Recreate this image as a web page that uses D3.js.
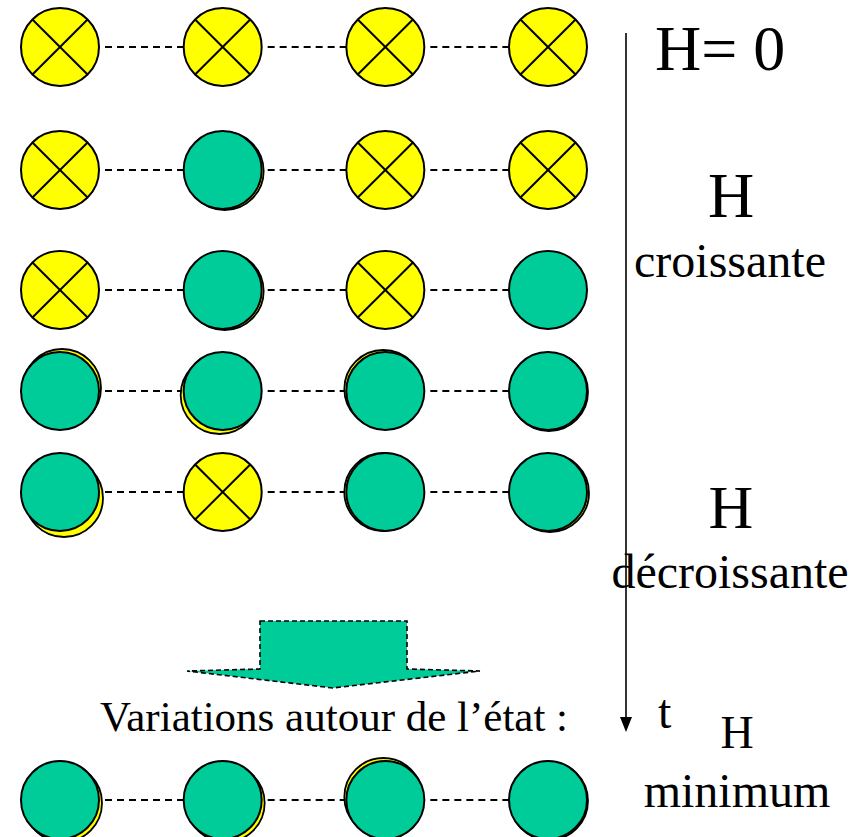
<!DOCTYPE html>
<html>
<head>
<meta charset="utf-8">
<script src="https://cdn.jsdelivr.net/npm/d3@7/dist/d3.min.js"></script>
<style>
html,body{margin:0;padding:0;background:#fff;}
svg{display:block;}
</style>
</head>
<body>
<svg id="chart" width="867" height="837"></svg>
<script>
// ---- data ----
const steps = ["s0", "s1", "s2", "s3", "s4", "final"];
const spins = ["a", "b", "c", "d"];
// X = yellow crossed state, G = green state
const stateRows = [
  ["X", "X", "X", "X"],
  ["X", "G", "X", "X"],
  ["X", "G", "X", "G"],
  ["G", "G", "G", "G"],
  ["G", "X", "G", "G"],
  ["G", "G", "G", "G"]
];
// residual yellow shadow behind green discs (direction hints)
const shadowRows = [
  [null, null, null, null],
  [null, [1, 0.5], null, null],
  [null, [1, 0.5], null, null],
  [[1, -1.5], [-1.5, 2], [-1, -1], [0.5, 0.5]],
  [[2, 3], null, [-1, 0], [1, 0.5]],
  [[1.5, 1.5], [1.5, 1.5], [-1, -1.5], [0.5, 0.5]]
];
const sideLabels = [
  {text: "H= 0", step: 0, size: 64, dy: 23, anchor: "start", x: 655},
  {text: "H", step: 1, size: 64, dy: 47, anchor: "middle", x: 731},
  {text: "croissante", step: 1, size: 48, dy: 107, anchor: "middle", x: 730},
  {text: "H", step: 4, size: 62, dy: 36, anchor: "middle", x: 731},
  {text: "décroissante", step: 4, size: 48, dy: 96, anchor: "middle", x: 730},
  {text: "H", step: 5, size: 46, dy: -52, anchor: "middle", x: 737},
  {text: "minimum", step: 5, size: 48, dy: 7, anchor: "middle", x: 737}
];
const timeLabel = "t";
const caption = "Variations autour de l\u2019état :";

// ---- layout ----
const FONT = "'Liberation Serif', 'Times New Roman', Times, serif";
const svg = d3.select("#chart");
const x = d3.scalePoint().domain(spins).range([60, 548]);
const y = d3.scaleOrdinal().domain(steps).range([47, 170, 290, 391, 492, 800]);
const r = 39;
const yellow = "#FFFF00", green = "#00CC99";

// dashed links
steps.forEach((s) => {
  const g = svg.append("g");
  for (let j = 0; j < spins.length - 1; j++) {
    g.append("line")
      .attr("x1", x(spins[j]) + r + 6).attr("x2", x(spins[j + 1]) - r)
      .attr("y1", y(s)).attr("y2", y(s))
      .attr("stroke", "#000").attr("stroke-width", 1.8)
      .attr("stroke-dasharray", "7,5");
  }
});

// nodes
const nodes = [];
steps.forEach((s, i) => spins.forEach((c, j) => nodes.push({
  step: s, spin: c, state: stateRows[i][j], shadow: shadowRows[i][j]
})));

const ng = svg.selectAll("g.node").data(nodes).join("g")
  .attr("class", "node")
  .attr("transform", d => `translate(${x(d.spin)},${y(d.step)})`);

ng.filter(d => d.state === "G" && d.shadow).append("circle")
  .attr("cx", d => d.shadow[0] * 2).attr("cy", d => d.shadow[1] * 2)
  .attr("r", r).attr("fill", yellow).attr("stroke", "#000").attr("stroke-width", 1.8);

ng.append("circle")
  .attr("r", r)
  .attr("fill", d => d.state === "X" ? yellow : green)
  .attr("stroke", "#000").attr("stroke-width", 2);

const k = r * Math.SQRT1_2;
ng.filter(d => d.state === "X").each(function () {
  const g = d3.select(this);
  g.append("line").attr("x1", -k).attr("y1", -k).attr("x2", k).attr("y2", k)
    .attr("stroke", "#000").attr("stroke-width", 2);
  g.append("line").attr("x1", -k).attr("y1", k).attr("x2", k).attr("y2", -k)
    .attr("stroke", "#000").attr("stroke-width", 2);
});

// time arrow
svg.append("line").attr("x1", 626).attr("x2", 626).attr("y1", 33).attr("y2", 720)
  .attr("stroke", "#000").attr("stroke-width", 1.6);
svg.append("path").attr("d", "M620,717 L632,717 L626,732 Z").attr("fill", "#000");
svg.append("text").attr("x", 658).attr("y", 728).attr("font-size", 48)
  .attr("font-family", FONT).text(timeLabel);

// side labels
svg.selectAll("text.side").data(sideLabels).join("text")
  .attr("class", "side")
  .attr("x", d => d.x)
  .attr("y", d => y(steps[d.step]) + d.dy)
  .attr("font-size", d => d.size)
  .attr("font-family", FONT)
  .attr("text-anchor", d => d.anchor)
  .text(d => d.text);

// block arrow
svg.append("path")
  .attr("d", "M260,621 L407,621 L407,669 L480,671 L333,688 L187,671 L260,669 Z")
  .attr("fill", green).attr("stroke", "#000").attr("stroke-width", 1.6)
  .attr("stroke-dasharray", "5,3");

// caption
svg.append("text").attr("x", 100).attr("y", 731).attr("font-size", 43)
  .attr("font-family", FONT).text(caption);
</script>
</body>
</html>
